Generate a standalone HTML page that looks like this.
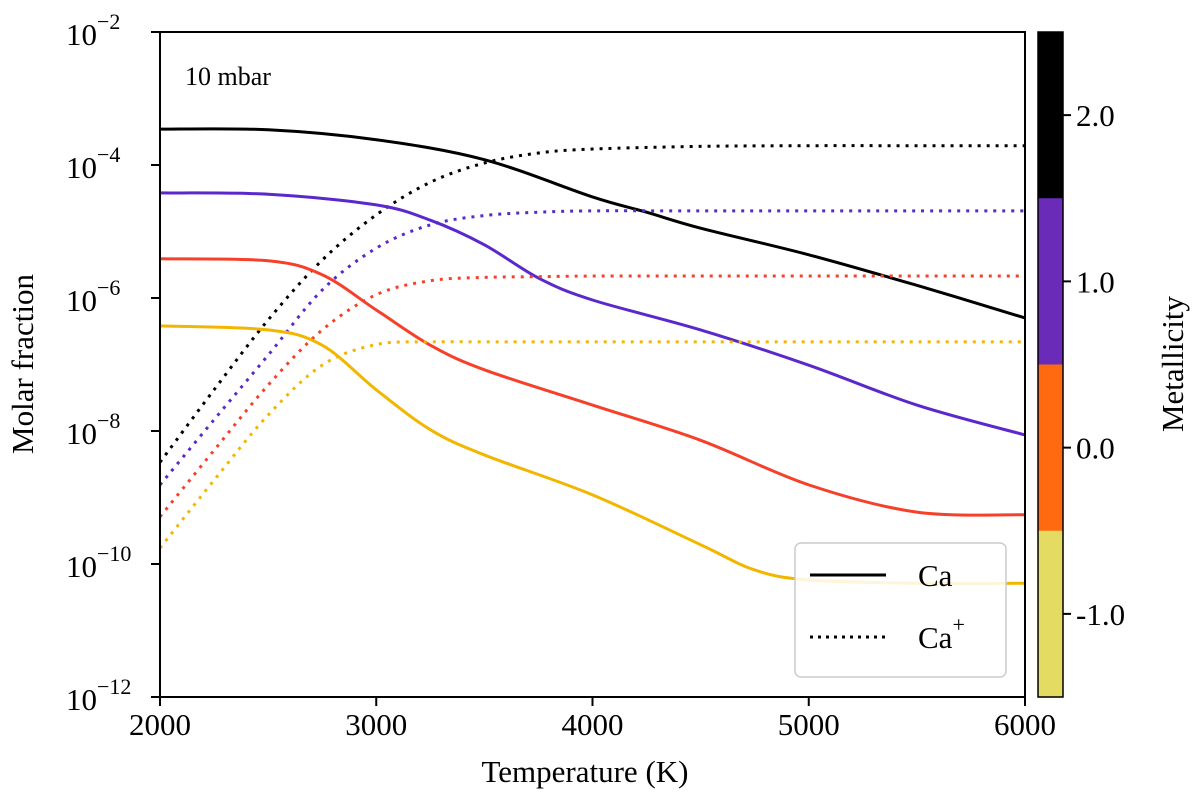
<!DOCTYPE html>
<html><head><meta charset="utf-8"><style>
html,body{margin:0;padding:0;background:#fff;}
svg{display:block;font-family:"Liberation Serif",serif;}
</style></head><body>
<svg id="chart" width="1200" height="808" viewBox="0 0 1200 808">
<g id="series"></g>
<rect x="160" y="32" width="865" height="665" fill="none" stroke="#000" stroke-width="2"/>
<g id="axes"></g>
<text x="185" y="85" font-size="26">10 mbar</text>
<g>
<rect x="795" y="543" width="211" height="134" rx="6" fill="#fff" fill-opacity="0.85" stroke="#ccc" stroke-width="1.5"/>
<line x1="810" y1="575" x2="886" y2="575" stroke="#000" stroke-width="3"/>
<text x="918" y="586" font-size="31">Ca</text>
<line x1="810" y1="637" x2="886" y2="637" stroke="#000" stroke-width="3" stroke-dasharray="3,5"/>
<text x="918" y="648" font-size="31">Ca<tspan dy="-16" font-size="22">+</tspan></text>
</g>
<g id="cbar"></g>
<text x="585" y="782" font-size="31" text-anchor="middle">Temperature (K)</text>
<text transform="translate(33,364) rotate(-90)" font-size="31" text-anchor="middle">Molar fraction</text>
<text transform="translate(1183,364) rotate(-90)" font-size="31" text-anchor="middle">Metallicity</text>
</svg>
<script>
const xTicks=[2000,3000,4000,5000,6000];
const yTickExp=[-2,-4,-6,-8,-10,-12];
const cbarColors=["#000000","#6a2cb8","#ff6a10","#e3db62"];
const cbarTicks=[2.0,1.0,0.0,-1.0];
const cbarRange=[2.5,-1.5];
// log10 molar fraction
const blackCaT=[2000,2500,3000,3500,4000,4250,4500,5000,5500,6000];
const blackCaV=[-3.46,-3.47,-3.62,-3.92,-4.48,-4.71,-4.95,-5.35,-5.81,-6.30];
const blackIonT=[2000,2250,2500,2750,3000,3250,3500,3750,4000,4500,5000,5500,6000];
const blackIonV=[-8.47,-7.38,-6.33,-5.43,-4.75,-4.26,-3.97,-3.82,-3.76,-3.72,-3.71,-3.71,-3.71];
const purpleCaT=[2000,2500,3000,3250,3500,3750,4000,4500,5000,5500,6000];
const purpleCaV=[-4.42,-4.44,-4.60,-4.83,-5.20,-5.70,-6.03,-6.48,-7.01,-7.61,-8.06];
const purpleIonT=[2000,2250,2500,2750,3000,3250,3500,3750,4000,4500,5000,5500,6000];
const purpleIonV=[-8.81,-7.83,-6.86,-5.88,-5.25,-4.90,-4.76,-4.71,-4.69,-4.69,-4.69,-4.69,-4.69];
const redCaT=[2000,2500,2750,3000,3250,3500,4000,4500,5000,5500,6000];
const redCaV=[-5.41,-5.44,-5.65,-6.18,-6.71,-7.08,-7.61,-8.14,-8.81,-9.22,-9.26];
const redIonT=[2000,2250,2500,2750,3000,3250,3500,3750,4000,4500,5000,5500,6000];
const redIonV=[-9.29,-8.29,-7.31,-6.48,-5.95,-5.74,-5.69,-5.68,-5.67,-5.67,-5.67,-5.67,-5.67];
const yellowCaT=[2000,2500,2750,3000,3250,3500,4000,4500,4750,5000,5500,6000];
const yellowCaV=[-6.42,-6.48,-6.71,-7.38,-7.98,-8.36,-8.96,-9.71,-10.09,-10.24,-10.29,-10.29];
const yellowIonT=[2000,2250,2500,2750,3000,3250,3500,4000,4500,5000,5500,6000];
const yellowIonV=[-9.76,-8.74,-7.76,-7.01,-6.70,-6.66,-6.66,-6.66,-6.66,-6.66,-6.66,-6.66];

const NS="http://www.w3.org/2000/svg";
const X=t=>160+(t-2000)/4000*865;
const Y=l=>32+(-2-l)/10*665;
function mk(tag,attrs,parent){const e=document.createElementNS(NS,tag);for(const k in attrs)e.setAttribute(k,attrs[k]);parent.appendChild(e);return e;}
function pathD(T,V){
  const p=T.map((t,i)=>[X(t),Y(V[i])]);
  let d="M"+p[0][0]+","+p[0][1];
  for(let i=0;i<p.length-1;i++){
    const p0=p[Math.max(i-1,0)],p1=p[i],p2=p[i+1],p3=p[Math.min(i+2,p.length-1)];
    const c1=[p1[0]+(p2[0]-p0[0])/6,p1[1]+(p2[1]-p0[1])/6];
    const c2=[p2[0]-(p3[0]-p1[0])/6,p2[1]-(p3[1]-p1[1])/6];
    d+=" C"+c1+" "+c2+" "+p2;
  }
  return d;
}
const sg=document.getElementById("series");
const series=[
 [blackCaT,blackCaV,"#000","black-ca",false],[blackIonT,blackIonV,"#000","black-ca-plus",true],
 [purpleCaT,purpleCaV,"#5b28cc","purple-ca",false],[purpleIonT,purpleIonV,"#5b28cc","purple-ca-plus",true],
 [redCaT,redCaV,"#f6402a","red-ca",false],[redIonT,redIonV,"#f6402a","red-ca-plus",true],
 [yellowCaT,yellowCaV,"#f2b600","yellow-ca",false],[yellowIonT,yellowIonV,"#f2b600","yellow-ca-plus",true]];
series.forEach(s=>{
  const e=mk("path",{d:pathD(s[0],s[1]),fill:"none",stroke:s[2],"stroke-width":3},sg);
  if(s[4])e.setAttribute("stroke-dasharray","3,6");
  
  
});
const ax=document.getElementById("axes");
xTicks.forEach(t=>{
  const l=mk("line",{x1:X(t),x2:X(t),y1:697,y2:706,stroke:"#000","stroke-width":2},ax);
  
  
  const tx=mk("text",{x:X(t),y:735,"font-size":31,"text-anchor":"middle"},ax);
  tx.textContent=t;
  
  
});
yTickExp.forEach(e=>{
  const l=mk("line",{x1:151,x2:160,y1:Y(e),y2:Y(e),stroke:"#000","stroke-width":2},ax);
  
  
  const tx=mk("text",{x:66,y:Y(e)+13,"font-size":31},ax);
  tx.textContent="10";
  const s=mk("tspan",{dy:-16,"font-size":22},tx);
  s.textContent="\u2212"+(-e);
  
  
});
const cb=document.getElementById("cbar");
const CY=v=>32+(cbarRange[0]-v)/(cbarRange[0]-cbarRange[1])*665;
cbarColors.forEach((c,i)=>{
  const r=mk("rect",{x:1038,y:32+i*166.25,width:25,height:167,fill:c},cb);
  
  
});
mk("rect",{x:1038,y:32,width:25,height:665,fill:"none",stroke:"#000","stroke-width":1.5},cb);
cbarTicks.forEach(v=>{
  const l=mk("line",{x1:1063,x2:1071,y1:CY(v),y2:CY(v),stroke:"#000","stroke-width":2},cb);
  
  
  const tx=mk("text",{x:1076,y:CY(v)+11,"font-size":31},cb);
  tx.textContent=(v<0?"-":"")+Math.abs(v).toFixed(1);
  
  
});
</script>
</body></html>
